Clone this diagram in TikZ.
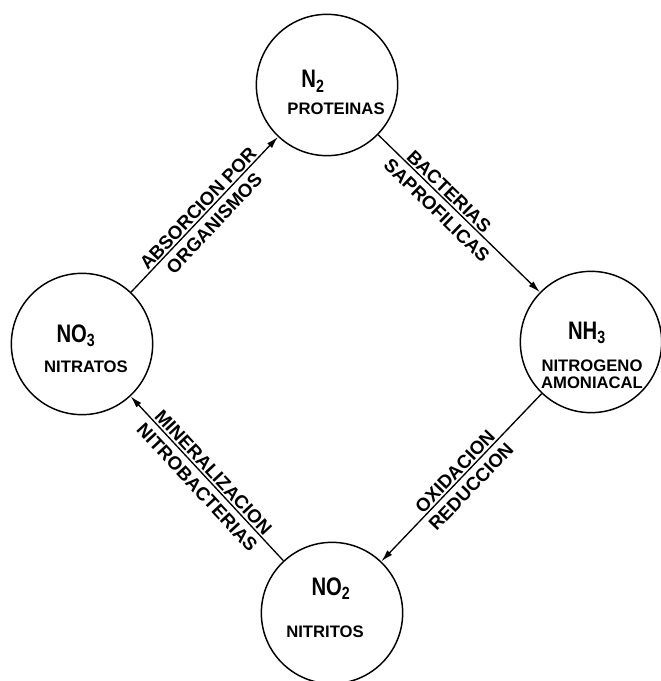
\documentclass[tikz,border=0pt]{standalone}
\usepackage{fontspec}
\setmainfont{Liberation Sans}
\newfontfamily\formfont[FakeStretch=0.8]{Liberation Sans}
\usetikzlibrary{arrows.meta,calc}
\tikzset{
  compartment/.style={
    circle, draw, line width=1.1pt,
    minimum size=106pt, inner sep=0pt
  },
  formula/.style={anchor=base, inner sep=0pt,
    font=\formfont\bfseries\fontsize{19}{22}\selectfont},
  species/.style={anchor=base, inner sep=0pt,
    font=\bfseries\fontsize{12.5}{15}\selectfont},
  flow/.style={-{Latex[length=9pt,width=5pt]}, line width=1pt},
  uplabel/.style={sloped, above, inner sep=1.2pt,
    font=\bfseries\fontsize{14}{16}\selectfont},
  lowlabel/.style={sloped, below, inner sep=4.5pt,
    font=\bfseries\fontsize{14}{16}\selectfont}
}
\begin{document}
\begin{tikzpicture}[x=0.75pt, y=-0.75pt]
\useasboundingbox (0,0) rectangle (660,681);

% ---- the four compartments ----
\node[compartment] (proteinas) at (327,85) {};
\node[compartment] (amoniacal) at (591,342) {};
\node[compartment] (nitritos) at (332,613) {};
\node[compartment] (nitratos) at (82,344) {};

% ---- what is written in them ----
\node[formula] (proteinas-f) at ($(proteinas)+(-14,3)$) {N\textsubscript{2}};
\node[species] (proteinas-t) at ($(proteinas)+(9,30)$) {PROTEINAS};

\node[formula] (amoniacal-f) at ($(amoniacal)+(-4,-3)$) {NH\textsubscript{3}};
\node[species] (amoniacal-t) at ($(amoniacal)+(1,29)$) {NITROGENO};
\node[species] (amoniacal-u) at ($(amoniacal)+(1,46)$) {AMONIACAL};

\node[formula] (nitritos-f) at ($(nitritos)+(-1,-18)$) {NO\textsubscript{2}};
\node[species] (nitritos-t) at ($(nitritos)+(-7,24)$) {NITRITOS};

\node[formula] (nitratos-f) at ($(nitratos)+(-6,-2)$) {NO\textsubscript{3}};
\node[species] (nitratos-t) at ($(nitratos)+(4,28)$) {NITRATOS};

% ---- the cycle ----
\draw[flow] (nitratos) -- (proteinas)
  node[uplabel, midway] {ABSORCION POR}
  node[lowlabel, midway] {ORGANISMOS};

\draw[flow] (proteinas) -- (amoniacal)
  node[uplabel, pos=0.4] {BACTERIAS}
  node[lowlabel, pos=0.42] {SAPROFILICAS};

\draw[flow] (amoniacal) -- (nitritos)
  node[uplabel, midway] {OXIDACION}
  node[lowlabel, midway] {REDUCCION};

\draw[flow] (nitritos) -- (nitratos)
  node[uplabel, midway] {MINERALIZACION}
  node[lowlabel, midway] {NITROBACTERIAS};

\end{tikzpicture}
\end{document}
